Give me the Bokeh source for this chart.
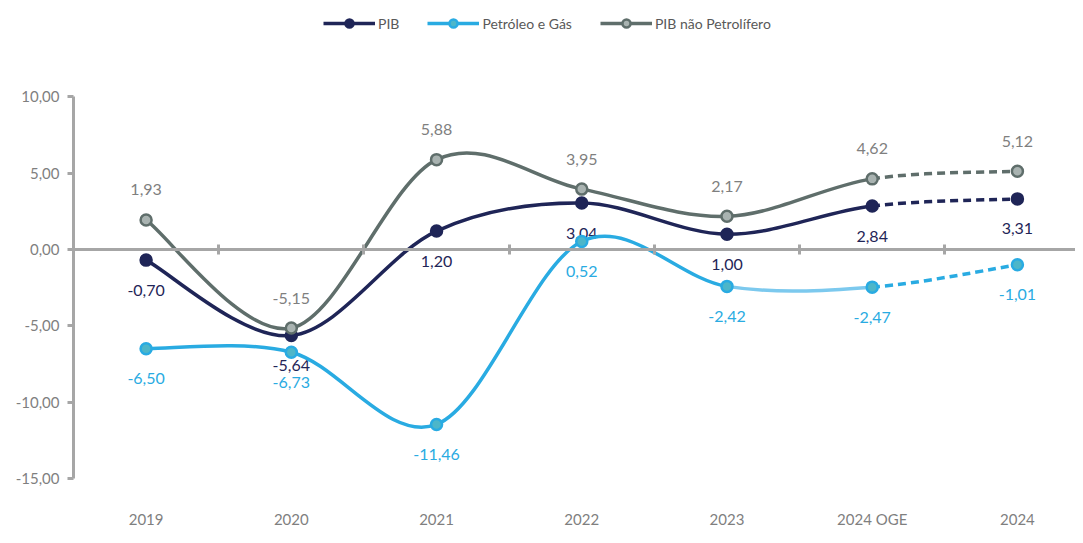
import numpy as np
from bokeh.plotting import figure
from bokeh.models import (ColumnDataSource, FixedTicker, LinearAxis, Range1d,
                          Legend, LegendItem)
from bokeh.core.properties import value
from bokeh.embed import file_html
from bokeh.resources import INLINE

years = ["2019", "2020", "2021", "2022", "2023", "2024 OGE", "2024"]
pib = [-0.70, -5.64, 1.20, 3.04, 1.00, 2.84, 3.31]
petroleo = [-6.50, -6.73, -11.46, 0.52, -2.42, -2.47, -1.01]
nao_petro = [1.93, -5.15, 5.88, 3.95, 2.17, 4.62, 5.12]
y_ticks = [-15, -10, -5, 0, 5, 10]
series_names = ["PIB", "Petróleo e Gás", "PIB não Petrolífero"]

FONT = "Lato"
AXIS_GRAY = "#a6a6a6"
TEXT_GRAY = "#7f7f7f"
NAVY = "#1f2557"
BLUE = "#29abe2"
BLUE_LIGHT = "#7cc9ee"
GREEN_GRAY = "#5f6e6b"


def fmt(v):
    return f"{v:.2f}".replace(".", ",")


xs = np.arange(len(years)) + 0.5


def bezier_data(x, y):
    n = len(x)
    d = dict(x0=[], y0=[], x1=[], y1=[], cx0=[], cy0=[], cx1=[], cy1=[])
    for i in range(n - 1):
        xp, yp = (x[i - 1], y[i - 1]) if i > 0 else (x[i], y[i])
        xn, yn = (x[i + 2], y[i + 2]) if i + 2 < n else (x[i + 1], y[i + 1])
        d["x0"].append(x[i]); d["y0"].append(y[i])
        d["x1"].append(x[i + 1]); d["y1"].append(y[i + 1])
        d["cx0"].append(x[i] + (x[i + 1] - xp) / 6)
        d["cy0"].append(y[i] + (y[i + 1] - yp) / 6)
        d["cx1"].append(x[i + 1] - (xn - x[i]) / 6)
        d["cy1"].append(y[i + 1] - (yn - y[i]) / 6)
    return d


def subset(d, idx):
    return {k: [v[i] for i in idx] for k, v in d.items()}


p = figure(frame_width=1002, frame_height=478,
           x_range=Range1d(0, 6.9), y_range=Range1d(-15, 16.3),
           output_backend="svg", toolbar_location=None,
           min_border_left=73, min_border_right=0,
           min_border_top=0, min_border_bottom=60)
p.outline_line_color = None
p.xgrid.visible = False
p.ygrid.visible = False
p.background_fill_color = "white"
p.border_fill_color = "white"

# y axis
ya = p.yaxis[0]
ya.ticker = FixedTicker(ticks=y_ticks)
ya.bounds = (min(y_ticks), max(y_ticks))
ya.major_label_overrides = {t: fmt(t) for t in y_ticks}
ya.axis_line_color = AXIS_GRAY
ya.axis_line_width = 3
ya.major_tick_line_color = AXIS_GRAY
ya.major_tick_line_width = 3
ya.major_tick_in = 0
ya.major_tick_out = 6
ya.minor_tick_line_color = None
ya.major_label_text_font = FONT
ya.major_label_text_font_size = "15px"
ya.major_label_text_color = TEXT_GRAY
ya.major_label_standoff = 8

# category labels axis
xa = p.xaxis[0]
xa.ticker = FixedTicker(ticks=list(xs))
xa.major_label_overrides = {float(x): yr for x, yr in zip(xs, years)}
xa.axis_line_color = None
xa.major_tick_line_color = None
xa.minor_tick_line_color = None
xa.major_label_text_font = FONT
xa.major_label_text_font_size = "15px"
xa.major_label_text_color = TEXT_GRAY
xa.major_label_standoff = 25

# zero line axis with category boundary ticks
bounds = [float(b) for b in np.arange(1, len(years))]
za = LinearAxis(fixed_location=0, ticker=FixedTicker(ticks=bounds))
za.major_label_overrides = {b: "" for b in bounds}
za.major_label_standoff = 0
za.axis_line_color = AXIS_GRAY
za.axis_line_width = 3
za.major_tick_line_color = AXIS_GRAY
za.major_tick_line_width = 3
za.major_tick_in = 5
za.major_tick_out = 5
za.minor_tick_line_color = None
p.add_layout(za, "below")

styles = [
    dict(vals=pib, color=NAVY, fill=NAVY, lab=NAVY, off=30),
    dict(vals=petroleo, color=BLUE, fill="#4db6c9", lab=BLUE, off=30),
    dict(vals=nao_petro, color=GREEN_GRAY, fill="#a9b3b1", lab=TEXT_GRAY, off=-30),
]

legend_items = []
n = len(years)
bz = dict(x0="x0", y0="y0", x1="x1", y1="y1", cx0="cx0", cy0="cy0",
          cx1="cx1", cy1="cy1")
for k, st in enumerate(styles):
    d = bezier_data(list(xs), st["vals"])
    if k == 1:
        p.bezier(source=ColumnDataSource(subset(d, list(range(n - 3)))), **bz,
                 line_color=st["color"], line_width=3.5)
        p.bezier(source=ColumnDataSource(subset(d, [n - 3])), **bz,
                 line_color=BLUE_LIGHT, line_width=3.5)
    else:
        p.bezier(source=ColumnDataSource(subset(d, list(range(n - 2)))), **bz,
                 line_color=st["color"], line_width=3.5)
    p.bezier(source=ColumnDataSource(subset(d, [n - 2])), **bz,
             line_color=st["color"], line_width=3.5, line_dash="8 5")
    # legend-only line (hidden on plot; curve drawn by bezier above)
    lr = p.line(xs, st["vals"], line_color=st["color"], line_width=3.5)
    lr.visible = False
    sr = p.scatter(xs, st["vals"], size=11, fill_color=st["fill"],
                   line_color=st["color"], line_width=2.5)
    p.text(xs, st["vals"], text=[fmt(v) for v in st["vals"]],
           text_align="center", text_baseline="middle", y_offset=st["off"],
           text_font=value(FONT), text_font_size="16px", text_color=st["lab"])
    legend_items.append(LegendItem(label=series_names[k], renderers=[lr, sr]))

legend = Legend(items=legend_items, orientation="horizontal",
                location=(250, 445), glyph_width=52, glyph_height=20,
                label_standoff=3, spacing=28, padding=0, margin=0,
                border_line_color=None, background_fill_alpha=0,
                label_text_font=FONT, label_text_font_size="14px",
                label_text_color="#595959")
p.add_layout(legend, "center")

open("out.html", "w").write(file_html(p, INLINE))
